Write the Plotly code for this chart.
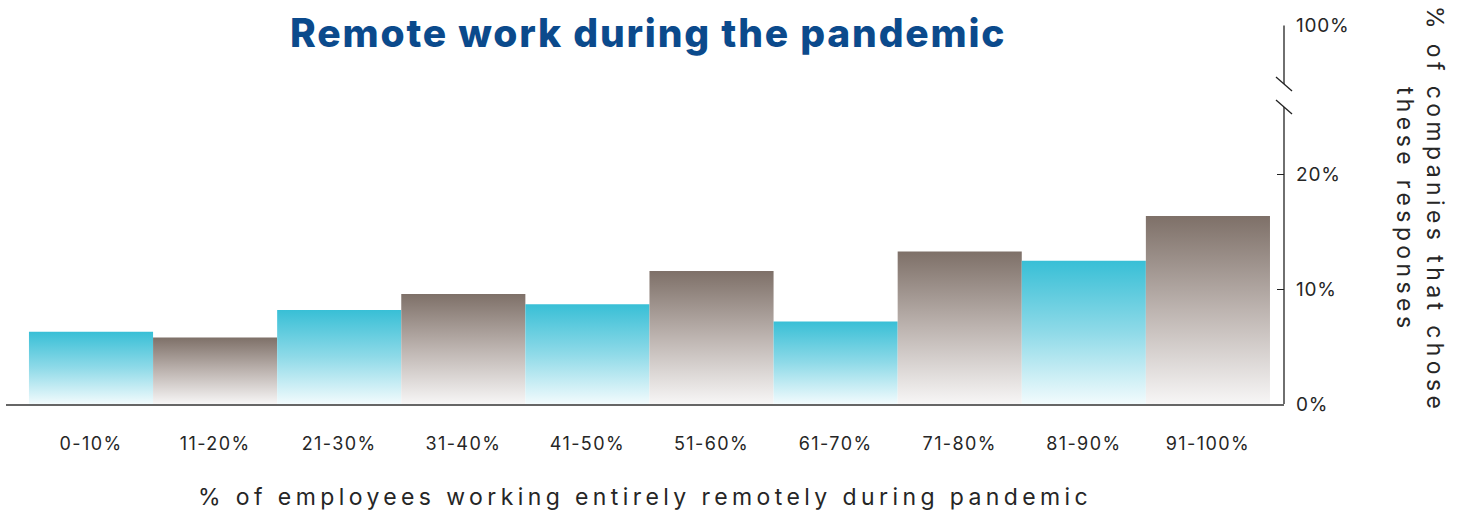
import plotly.graph_objects as go

# Share of companies (%) by share of employees working fully remotely
categories = ["0-10%", "11-20%", "21-30%", "31-40%", "41-50%",
              "51-60%", "61-70%", "71-80%", "81-90%", "91-100%"]
shares = [6.3, 5.8, 8.2, 9.6, 8.7, 11.6, 7.2, 13.3, 12.5, 16.4]

y_ticks = [0, 10, 20, 33]
y_tick_labels = ["0%", "10%", "20%", "100%"]

CYAN_SCALE = [[0.0, "#f2fbfd"], [0.5, "#8fdae8"], [1.0, "#38bfd6"]]
TAUPE_SCALE = [[0.0, "#f7f6f6"], [0.5, "#bdb4b0"], [1.0, "#7e7068"]]

FONT = "Inter, 'Noto Sans', sans-serif"
TEXT = "#262626"


def spaced(s, px):
    return f'<span style="letter-spacing:{px}px">{s}</span>'


fig = go.Figure()

half = 0.5
for i, v in enumerate(shares):
    scale = CYAN_SCALE if i % 2 == 0 else TAUPE_SCALE
    fig.add_trace(go.Scatter(
        x=[i - half, i - half, i + half, i + half, i - half],
        y=[0, v, v, 0, 0],
        mode="lines",
        line=dict(width=0),
        fill="toself",
        fillgradient=dict(type="vertical", colorscale=scale, start=0, stop=v),
        hoverinfo="skip",
        showlegend=False,
    ))

y_top = 33.05
break_lo, break_hi = 25.9, 27.9

# broken right-hand axis line
fig.add_shape(type="line", xref="paper", yref="y", x0=1, x1=1, y0=0, y1=break_lo,
              line=dict(color="#222", width=1.3))
fig.add_shape(type="line", xref="paper", yref="y", x0=1, x1=1, y0=break_hi, y1=33,
              line=dict(color="#222", width=1.3))
for yb in (break_lo, break_hi):
    fig.add_shape(type="line", xref="paper", yref="y",
                  xsizemode="pixel", xanchor=1, x0=-8, x1=8,
                  ysizemode="pixel", yanchor=yb, y0=7, y1=-7,
                  line=dict(color="#222", width=1.3))

fig.update_layout(
    width=1460, height=513,
    margin=dict(l=6, r=176, t=25, b=109),
    paper_bgcolor="white", plot_bgcolor="white",
    title=dict(text=spaced("Remote work during the pandemic", 1.8),
               font=dict(family=FONT, size=39, color="#0b4a8c", weight=800),
               x=0.444, xanchor="center", y=1 - 33 / 513, yanchor="middle",
               xref="container", yref="container"),
    xaxis=dict(
        range=[-0.685, 9.613],
        tickvals=list(range(len(categories))),
        ticktext=[spaced(c, 1.4) for c in categories],
        ticks="", showgrid=False, zeroline=False,
        showline=True, linecolor="#666", linewidth=2,
        tickfont=dict(family=FONT, size=18, color=TEXT),
        ticklabelstandoff=22,
    ),
    yaxis=dict(
        side="right", range=[0, y_top],
        tickvals=y_ticks, ticktext=[spaced(t, 0.8) for t in y_tick_labels],
        ticks="inside", ticklen=7, tickcolor="#222", tickwidth=1.3,
        showgrid=False, zeroline=False, showline=False,
        tickfont=dict(family=FONT, size=19, color=TEXT),
        ticklabelstandoff=11,
    ),
    annotations=[
        dict(text=spaced("% of employees working entirely remotely during pandemic", 4.4),
             xref="paper", yref="paper", x=0.5, y=-0.245,
             xanchor="center", yanchor="middle", showarrow=False,
             font=dict(family=FONT, size=23, color=TEXT)),
        dict(text=spaced("% of companies that chose", 4.4) + "<br>" + spaced("these responses", 4.4),
             xref="paper", yref="paper", x=1.1064, y=0.512,
             xanchor="center", yanchor="middle", textangle=90, showarrow=False,
             font=dict(family=FONT, size=23, color=TEXT)),
    ],
)

fig.write_html("out.html")
